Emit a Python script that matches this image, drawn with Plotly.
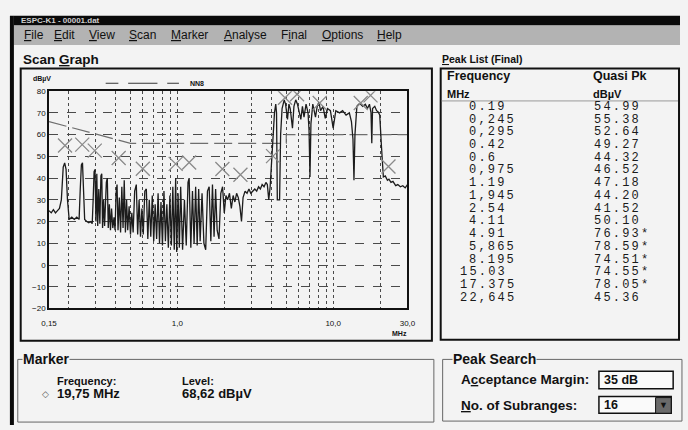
import plotly.graph_objects as go

# ---------------- data ----------------
freq_mhz = [0.150, 0.155, 0.160, 0.165, 0.170, 0.175, 0.180, 0.185, 0.189, 0.193, 0.197, 0.202, 0.210, 0.218,
            0.226, 0.234, 0.238, 0.242, 0.246, 0.250, 0.254, 0.262, 0.270, 0.278, 0.284, 0.288, 0.292, 0.296,
            0.300, 0.304, 0.308, 0.313, 0.318, 0.323, 0.327, 0.331, 0.336, 0.341, 0.350, 0.355, 0.360, 0.366,
            0.372, 0.378, 0.385, 0.392, 0.398, 0.404, 0.410, 0.416, 0.424, 0.432, 0.440, 0.448, 0.456, 0.464,
            0.472, 0.480, 0.490, 0.500, 0.510, 0.520, 0.532, 0.545, 0.556, 0.568, 0.580, 0.592, 0.604, 0.618,
            0.632, 0.646, 0.660, 0.675, 0.690, 0.705, 0.720, 0.736, 0.752, 0.768, 0.785, 0.802, 0.820, 0.838,
            0.856, 0.875, 0.895, 0.915, 0.935, 0.955, 0.975, 0.990, 1.01, 1.03, 1.05, 1.08, 1.11, 1.14, 1.17,
            1.19, 1.22, 1.25, 1.28, 1.31, 1.34, 1.37, 1.40, 1.44, 1.48, 1.52, 1.56, 1.60, 1.64, 1.68, 1.72,
            1.76, 1.80, 1.85, 1.90, 1.95, 2.00, 2.05, 2.10, 2.16, 2.22, 2.28, 2.34, 2.40, 2.46, 2.52, 2.58,
            2.64, 2.72, 2.80, 2.88, 2.96, 3.05, 3.14, 3.23, 3.32, 3.41, 3.50, 3.60, 3.70, 3.78, 3.86, 3.94,
            4.03, 4.13, 4.20, 4.28, 4.33, 4.38, 4.48, 4.53, 4.60, 4.70, 4.85, 4.95, 5.09, 5.20, 5.30, 5.48,
            5.60, 5.75, 5.90, 6.05, 6.20, 6.35, 6.50, 6.70, 6.90, 7.00, 7.10, 7.20, 7.40, 7.70, 7.90, 8.10,
            8.30, 8.60, 8.90, 9.20, 9.60, 10.0, 10.4, 11.0, 11.5, 12.1, 12.7, 13.1, 13.4, 13.6, 13.8, 14.2,
            14.6, 15.0, 15.5, 16.1, 16.6, 17.1, 17.5, 17.7, 17.9, 18.5, 19.0, 19.4, 19.9, 20.4, 21.0, 21.6,
            22.3, 22.8, 23.5, 24.2, 25.2, 26.0, 27.0, 28.0, 29.0, 30.0]
level_dbuv = [25, 24, 25.5, 24, 25, 26, 30, 45, 47, 44, 30, 21, 22, 21,
              22, 21, 35, 46, 47, 30, 21, 20, 19.5, 20, 19, 30, 43, 44,
              20, 42, 18, 35, 19, 41, 42, 17, 30, 18, 38, 40, 17, 28,
              16, 26, 17, 22, 16, 33, 37, 16, 31, 15, 36, 17, 39, 15,
              30, 16, 27, 14, 24, 15, 34, 37, 14, 30, 13, 26, 14, 34,
              35, 12, 30, 13, 32, 11, 28, 12, 33, 10, 29, 9, 34, 11,
              28, 8, 32, 9, 36, 7, 40, 6, 33, 8, 36, 7, 30, 9, 38,
              40, 8, 34, 10, 36, 9, 35, 11, 33, 10, 7, 34, 36, 11, 37, 13,
              35, 16, 12, 33, 36, 24, 32, 30, 33, 26, 32, 29, 33, 31, 27, 20,
              31, 34, 33, 35, 33, 34, 35, 34, 36, 35, 37, 36, 38, 37, 30, 36,
              48, 63, 70, 74, 70, 30, 30, 30, 60, 72, 76, 74, 67, 74, 72, 63,
              73, 76, 74, 71, 67, 73, 68, 74, 70, 62, 40.5, 65, 74, 68, 73, 75,
              71, 73, 67.5, 72, 71, 63, 71, 70, 71, 69, 70, 66, 58, 39, 60, 73,
              74, 74, 73, 74, 72, 74, 70, 56, 72, 73, 71, 70.5, 69, 55, 40.5, 41,
              39, 39.5, 38, 38.5, 36.5, 37, 36, 36.5, 35.5, 37]

peak_freq = [0.19, 0.245, 0.295, 0.42, 0.6, 0.975, 1.19, 1.945, 2.54, 4.11,
             4.91, 5.865, 8.195, 15.03, 17.375, 22.645]
peak_qp = [54.99, 55.38, 52.64, 49.27, 44.32, 46.52, 47.18, 44.20, 41.52, 50.10,
           76.93, 78.59, 74.51, 74.55, 78.05, 45.36]
peak_freq_text = ["0.19", "0,245", "0,295", "0.42", "0.6", "0,975", "1.19", "1,945", "2.54", "4.11",
                  "4.91", "5,865", "8.195", "15.03", "17.375", "22,645"]
peak_qp_text = ["54.99", "55.38", "52.64", "49.27", "44.32", "46.52", "47.18", "44.20", "41.52", "50.10",
                "76.93*", "78.59*", "74.51*", "74.55*", "78.05*", "45.36"]

limit_freq = [0.15, 0.5, 5.0, 5.0, 30.0]
limit_level = [66, 56, 56, 60, 60]

x_tick_vals = [0.15, 0.2, 0.3, 0.4, 0.5, 0.6, 0.7, 0.8, 0.9, 1, 2, 3, 4, 5, 6, 7, 8, 9, 10, 20, 30]
x_tick_text = ["0,15", "", "", "", "", "", "", "", "", "1,0", "", "", "", "", "", "", "", "", "10,0", "", "30,0"]
y_tick_vals = [-20, -10, 0, 10, 20, 30, 40, 50, 60, 70, 80]

menu_items = ["<u>F</u>ile", "<u>E</u>dit", "<u>V</u>iew", "<u>S</u>can", "<u>M</u>arker",
              "<u>A</u>nalyse", "F<u>i</u>nal", "<u>O</u>ptions", "<u>H</u>elp"]
menu_x = [15, 46, 82, 123, 166, 220, 278, 320, 377]

# ---------------- helpers (layout geometry in pixels) ----------------
W, H = 688, 430
def PX(x): return x / W
def PY(y): return 1 - y / H

BG = "#f3f3f3"
FONT = "Liberation Sans, Arial, sans-serif"
MONO = "Liberation Mono, DejaVu Sans Mono, monospace"

shapes = []
annos = []

def rect(x0, y0, x1, y1, line="#111", width=1.5, fill=None):
    d = dict(type="rect", xref="paper", yref="paper", x0=PX(x0), x1=PX(x1), y0=PY(y1), y1=PY(y0),
             line=dict(color=line, width=width))
    if fill:
        d["fillcolor"] = fill
    if width == 0:
        d["line"] = dict(width=0)
    shapes.append(d)

def hline(x0, x1, y, color="#111", width=1, dash=None):
    shapes.append(dict(type="line", xref="paper", yref="paper", x0=PX(x0), x1=PX(x1), y0=PY(y), y1=PY(y),
                       line=dict(color=color, width=width, dash=dash)))

def vline(x, y0, y1, color="#111", width=1):
    shapes.append(dict(type="line", xref="paper", yref="paper", x0=PX(x), x1=PX(x), y0=PY(y0), y1=PY(y1),
                       line=dict(color=color, width=width)))

def text(x, y, s, size=12, bold=False, color="#111", family=FONT, anchor="left", bg=None):
    a = dict(xref="paper", yref="paper", x=PX(x), y=PY(y), text=("<b>%s</b>" % s) if bold else s,
             showarrow=False, xanchor=anchor, yanchor="middle", borderpad=0,
             font=dict(size=size, color=color, family=family))
    if bg:
        a["bgcolor"] = bg
    annos.append(a)

# window chrome
rect(6, 12, 688, 22, width=0, fill="#0a0a0a")
text(12, 17, "ESPC-K1 - 00001.dat", size=8, bold=True, color="#cfcfcf")
rect(6, 22, 688, 42, width=0, fill="#b3b3b3")
vline(4, 12, 430, color="#0a0a0a", width=4)
for mx, mt in zip(menu_x, menu_items):
    text(mx, 32, mt, size=12, color="#111")

# Scan graph panel
text(14, 57, "Scan <u>G</u>raph", size=13.5, bold=True)
rect(13, 66, 434, 344, width=2)
# legend sample for limit line
hline(100, 113, 81, color="#555", width=1.2)
hline(123, 153, 81, color="#555", width=1.2)
hline(163, 175, 81, color="#555", width=1.2)
text(185, 81, "NN8", size=7, bold=True)
text(25, 77, "dBµV", size=7, bold=True)
text(392, 337, "MHz", size=7, bold=True)

# Peak list panel
text(443, 56, "<u>P</u>eak List (Final)", size=10.5, bold=True)
rect(443, 66, 687, 343, width=2)
text(448, 74, "Frequency", size=12.5, bold=True)
text(598, 74, "Quasi Pk", size=12.5, bold=True)
text(448, 92, "MHz", size=11, bold=True)
text(598, 92, "dBµV", size=11, bold=True)
hline(444, 686, 99, color="#999", width=1)
SP = '<span style="letter-spacing:2.2px">%s</span>'
for i, (ft, qt) in enumerate(zip(peak_freq_text, peak_qp_text)):
    ypos = 105 + 13 * i
    intlen = len(ft.replace(",", ".").split(".")[0])
    text(471 - 9.3 * (intlen - 1), ypos, SP % ft, size=12, family=MONO, color="#1a1a1a")
    text(599, ypos, SP % qt, size=12, family=MONO, color="#1a1a1a")

# Marker box
rect(10, 363, 436, 427, line="#666", width=1)
text(14, 363, "Marker", size=14, bold=True, bg=BG)
text(49, 385, "Frequency:", size=11, bold=True)
text(177, 385, "Level:", size=11, bold=True)
text(34, 398, "◇", size=9, color="#555")
text(49, 398, "19,75 MHz", size=13, bold=True)
text(177, 398, "68,62 dBµV", size=13, bold=True)

# Peak search box
rect(445, 363, 690, 426, line="#666", width=1)
text(455, 363, "Peak Search", size=14, bold=True, bg=BG)
text(463, 384, "A<u>c</u>ceptance Margin:", size=13.5, bold=True)
text(463, 410, "<u>N</u>o. of Subranges:", size=13.5, bold=True)
rect(605, 375, 681, 393, line="#111", width=1.5, fill="#fafafa")
text(609, 384, "35 dB", size=12.5, bold=True)
rect(605, 401, 679, 418, line="#111", width=1.5, fill="#fafafa")
text(609, 410, "16", size=12.5, bold=True)
rect(663, 402, 679, 418, line="#111", width=1, fill="#6a6a6a")
text(671, 410, "▼", size=9, color="#111", anchor="center")

# ---------------- traces ----------------
fig = go.Figure()
fig.add_trace(go.Scatter(x=limit_freq, y=limit_level, mode="lines", name="NN8",
                         line=dict(color="#6e6e6e", width=1.2, dash="18px,6px"), showlegend=False))
fig.add_trace(go.Scatter(x=freq_mhz, y=level_dbuv, mode="lines", name="Scan",
                         line=dict(color="#1c1c1c", width=1.3), showlegend=False))
fig.add_trace(go.Scatter(x=peak_freq, y=peak_qp, mode="markers", name="Final",
                         marker=dict(symbol="x-thin-open", size=14, color="#8a8a8a",
                                     line=dict(color="#8a8a8a", width=1.3)),
                         showlegend=False))

fig.update_layout(
    width=W, height=H, margin=dict(l=0, r=0, t=0, b=0),
    paper_bgcolor=BG, plot_bgcolor=BG,
    shapes=shapes, annotations=annos,
    xaxis=dict(type="log", domain=[PX(42), PX(409)], range=[-0.8239, 1.4771],
               tickvals=x_tick_vals, ticktext=x_tick_text, ticks="outside", ticklen=6,
               tickcolor="rgba(0,0,0,0)",
               tickfont=dict(size=8, family=FONT, color="#111"),
               showgrid=True, gridcolor="#4a4a4a", gridwidth=1, griddash="dot",
               showline=True, linecolor="#111", linewidth=1.5, mirror=True, zeroline=False),
    yaxis=dict(domain=[PY(311), PY(89)], range=[-20, 80], tickvals=y_tick_vals,
               tickfont=dict(size=8, family=FONT, color="#111"),
               showgrid=True, gridcolor="#4a4a4a", gridwidth=1, griddash="dash",
               showline=True, linecolor="#111", linewidth=1.5, mirror=True, zeroline=False),
)

fig.write_html("out.html", config={"displayModeBar": False},
               post_script="document.body.style.margin='0';document.body.style.background='%s';" % BG)
